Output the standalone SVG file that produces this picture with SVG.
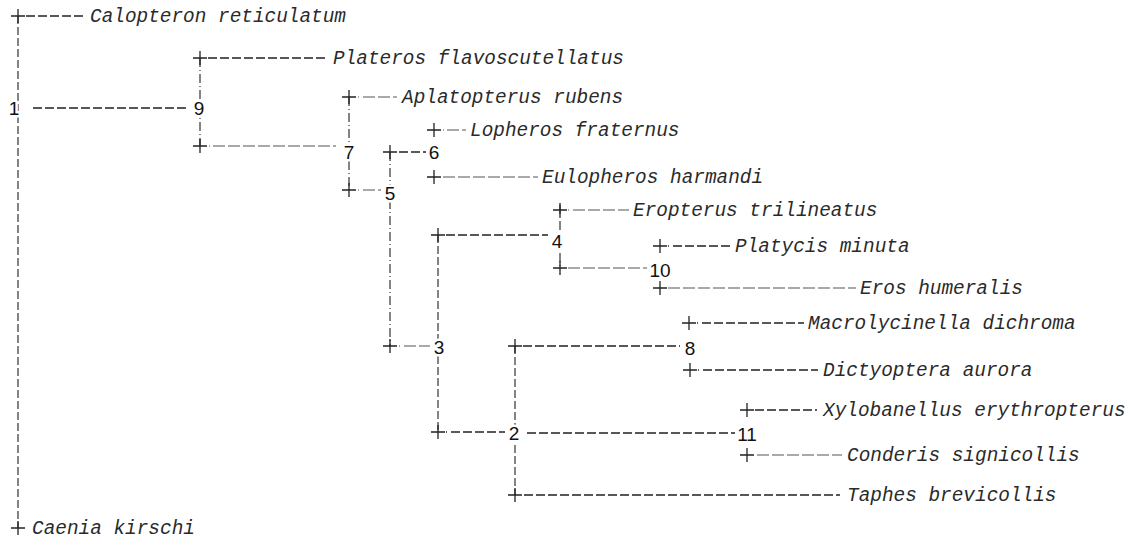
<svg xmlns="http://www.w3.org/2000/svg" width="1129" height="543" viewBox="0 0 1129 543">
<style>
.bg{fill:#fff}
.sp{font-family:"Liberation Mono","DejaVu Sans Mono",monospace;font-style:italic;font-size:19.4px;fill:#2a2a2a}
.nm{font-family:"Liberation Sans",Arial,sans-serif;font-size:19px;fill:#111;text-anchor:middle;stroke:#fff;stroke-width:5;paint-order:stroke;stroke-linejoin:round}
.pl{stroke:#222;stroke-width:1.3;fill:none}
.d{stroke:#222;stroke-width:1.3;fill:none;stroke-dasharray:9,3}
.l{stroke:#555;stroke-width:1.1;fill:none;stroke-dasharray:12,3}
.v{stroke:#333;stroke-width:1.2;fill:none;stroke-dasharray:9,3,1,3}
.vr{stroke:#333;stroke-width:1.2;fill:none;stroke-dasharray:8,3}
</style>
<defs>
<path id="plus" class="pl" d="M-7,0H7M0,-7V7"/>
</defs>
<rect class="bg" x="0" y="0" width="1129" height="543"/>
<g id="connectors">
<path class="vr" d="M18,16V528"/>
<path class="d" d="M26,16H86"/>
<path class="d" d="M33,108H189"/>
<path class="v" d="M200,58V146"/>
<path class="d" d="M208,58H327"/>
<path class="l" d="M209,146h1M213,146H336"/>
<path class="v" d="M349,97V190"/>
<path class="l" d="M358,97h1M363,97H397"/>
<path class="l" d="M358,190h1M363,190H381"/>
<path class="v" d="M390,152V346"/>
<path class="d" d="M399,152H426"/>
<path class="l" d="M399,346h1M404,346H430"/>
<path class="l" d="M443,130h1M447,130H466"/>
<path class="l" d="M443,177H538"/>
<path class="vr" d="M438,235V432"/>
<path class="d" d="M446,235H548"/>
<path class="d" d="M446,432h1M451,432H505"/>
<path class="v" d="M560,205V268"/>
<path class="l" d="M568,210h1M573,210H629"/>
<path class="l" d="M568,268H647"/>
<path class="d" d="M668,246h1M673,246H731"/>
<path class="l" d="M668,288H856"/>
<path class="vr" d="M515,346V495"/>
<path class="d" d="M523,346H680"/>
<path class="d" d="M527,433H735"/>
<path class="d" d="M524,495H840"/>
<path class="d" d="M697,323h1M702,323H804"/>
<path class="d" d="M698,370h1M703,370H818"/>
<path class="d" d="M755,410H817"/>
<path class="l" d="M757,455H842"/>
</g>
<g id="leaf-calopteron"><use href="#plus" x="18" y="16"/><text class="sp" x="90" y="22">Calopteron reticulatum</text></g>
<g id="leaf-plateros"><use href="#plus" x="200" y="58"/><text class="sp" x="333" y="64">Plateros flavoscutellatus</text></g>
<g id="leaf-9b"><use href="#plus" x="200" y="146"/></g>
<g id="leaf-aplatopterus"><use href="#plus" x="349" y="97"/><text class="sp" x="402" y="103">Aplatopterus rubens</text></g>
<g id="leaf-7b"><use href="#plus" x="349" y="190"/></g>
<g id="leaf-5a"><use href="#plus" x="390" y="152"/></g>
<g id="leaf-5b"><use href="#plus" x="390" y="346"/></g>
<g id="leaf-lopheros"><use href="#plus" x="434" y="130"/><text class="sp" x="470" y="136">Lopheros fraternus</text></g>
<g id="leaf-eulopheros"><use href="#plus" x="434" y="177"/><text class="sp" x="542" y="183">Eulopheros harmandi</text></g>
<g id="leaf-3a"><use href="#plus" x="438" y="235"/></g>
<g id="leaf-3b"><use href="#plus" x="438" y="432"/></g>
<g id="leaf-eropterus"><use href="#plus" x="560" y="210"/><text class="sp" x="633" y="216">Eropterus trilineatus</text></g>
<g id="leaf-4b"><use href="#plus" x="560" y="268"/></g>
<g id="leaf-platycis"><use href="#plus" x="660" y="246"/><text class="sp" x="735" y="252">Platycis minuta</text></g>
<g id="leaf-eros"><use href="#plus" x="660" y="288"/><text class="sp" x="860" y="294">Eros humeralis</text></g>
<g id="leaf-2a"><use href="#plus" x="515" y="346"/></g>
<g id="leaf-macrolycinella"><use href="#plus" x="689" y="323"/><text class="sp" x="808" y="329">Macrolycinella dichroma</text></g>
<g id="leaf-dictyoptera"><use href="#plus" x="690" y="370"/><text class="sp" x="823" y="376">Dictyoptera aurora</text></g>
<g id="leaf-xylobanellus"><use href="#plus" x="747" y="410"/><text class="sp" x="823" y="416">Xylobanellus erythropterus</text></g>
<g id="leaf-conderis"><use href="#plus" x="747" y="455"/><text class="sp" x="847" y="461">Conderis signicollis</text></g>
<g id="leaf-taphes"><use href="#plus" x="515" y="495"/><text class="sp" x="847" y="501">Taphes brevicollis</text></g>
<g id="leaf-caenia"><use href="#plus" x="18" y="528"/><text class="sp" x="32" y="534">Caenia kirschi</text></g>
<g id="n1"><text class="nm" x="14" y="115">1</text></g>
<g id="n9"><text class="nm" x="199" y="115">9</text></g>
<g id="n7"><text class="nm" x="349" y="159">7</text></g>
<g id="n6"><text class="nm" x="434" y="159">6</text></g>
<g id="n5"><text class="nm" x="390" y="200">5</text></g>
<g id="n3"><text class="nm" x="439" y="354">3</text></g>
<g id="n4"><text class="nm" x="557" y="248">4</text></g>
<g id="n10"><text class="nm" x="660" y="277">10</text></g>
<g id="n2"><text class="nm" x="514" y="440">2</text></g>
<g id="n8"><text class="nm" x="690" y="355">8</text></g>
<g id="n11"><text class="nm" x="747" y="441">11</text></g>
</svg>
